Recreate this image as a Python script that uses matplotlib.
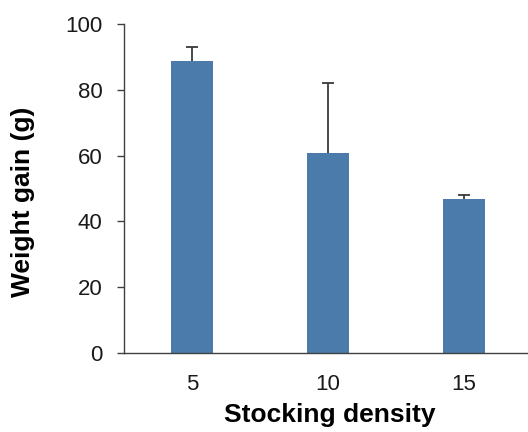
import matplotlib.pyplot as plt
import numpy as np

plt.rcParams['font.family'] = ['Liberation Sans', 'DejaVu Sans']

# data
densities = ['5', '10', '15']
weight_gain = [88.8, 60.8, 46.8]
err_upper = [4.2, 21.3, 1.2]

fig = plt.figure(figsize=(5.28, 4.32), dpi=100)
ax = fig.add_axes([0.235, 0.183, 0.765, 0.761])

x = np.arange(len(densities))
ax.bar(x, weight_gain, width=0.31, color='#4a7baa', zorder=2)
eb = ax.errorbar(x, weight_gain, yerr=[np.zeros(len(x)), err_upper], fmt='none',
                 ecolor='#3a3a3a', elinewidth=1.3, capsize=4.3, capthick=1.3, zorder=3)
# hide the lower caps (only upper error shown)
eb[1][0].set_visible(False)

ax.set_xlim(-0.5, 2.47)
ax.set_ylim(0, 100)
ax.set_yticks([0, 20, 40, 60, 80, 100])
ax.set_xticks(x)
ax.set_xticklabels(densities)

ax.spines['top'].set_visible(False)
ax.spines['right'].set_visible(False)
for s in ['left', 'bottom']:
    ax.spines[s].set_color('#404040')
    ax.spines[s].set_linewidth(1.0)

ax.tick_params(axis='y', direction='out', length=5, width=1.0, color='#404040',
               labelsize=16, pad=10.5, labelcolor='#1a1a1a')
ax.tick_params(axis='x', length=0, labelsize=16, pad=15, labelcolor='#1a1a1a')

ax.set_xlabel('Stocking density', fontsize=19, fontweight='bold', labelpad=6)
ax.xaxis.label.set_x(0.51)
ax.set_ylabel('Weight gain (g)', fontsize=19, fontweight='bold', labelpad=22)
ax.yaxis.label.set_y(0.46)

plt.savefig('out.png', dpi=100)
